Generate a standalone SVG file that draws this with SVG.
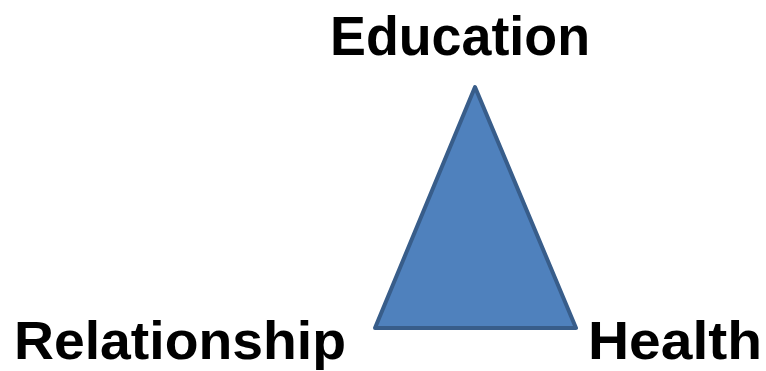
<svg xmlns="http://www.w3.org/2000/svg" width="766" height="371" viewBox="0 0 766 371">
  <style>
    .lbl { font-family: "Liberation Sans", Arial, sans-serif; font-weight: bold; font-size: 56px; fill: #000000; }
    .low { font-size: 54px; }
    .tri { fill: #4F81BD; stroke: #385D8A; stroke-width: 4; stroke-linejoin: round; }
  </style>
  <rect width="766" height="371" fill="#FFFFFF"/>
  <g id="connectors"></g>
  <g id="triangle">
    <polygon class="tri" points="475,87 576,328 375,328"/>
  </g>
  <g id="education">
    <text class="lbl" x="330" y="55" textLength="260" lengthAdjust="spacingAndGlyphs">Education</text>
  </g>
  <g id="relationship">
    <text class="lbl low" x="14" y="359" textLength="332" lengthAdjust="spacingAndGlyphs">Relationship</text>
  </g>
  <g id="health">
    <text class="lbl low" x="588" y="359" textLength="174" lengthAdjust="spacingAndGlyphs">Health</text>
  </g>
</svg>
